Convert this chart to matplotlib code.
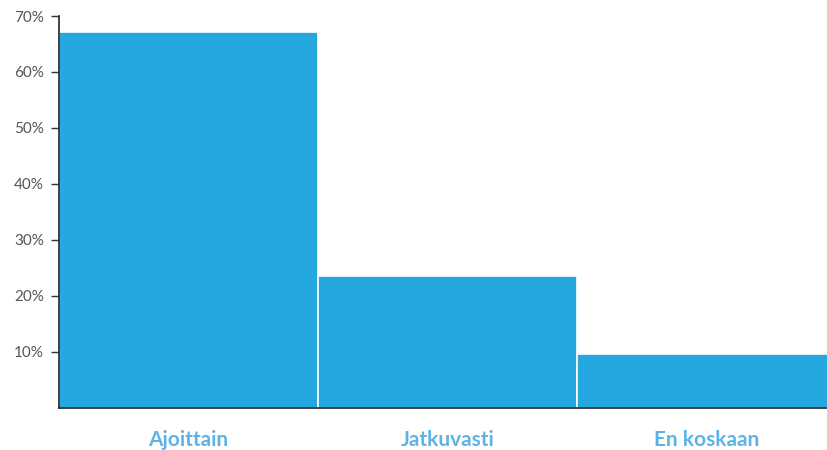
import matplotlib.pyplot as plt
import numpy as np

# Luokat ja osuudet (%)
categories = ["Ajoittain", "Jatkuvasti", "En koskaan"]
shares = [67.2, 23.5, 9.5]
tick_values = [10, 20, 30, 40, 50, 60, 70]
tick_labels = ["10%", "20%", "30%", "40%", "50%", "60%", "70%"]

BAR_COLOR = "#25a8e0"
LABEL_COLOR = "#5db3e6"

fig = plt.figure(figsize=(8.28, 4.5), dpi=100)
ax = fig.add_axes([0.0713, 0.0944, 0.9287, 0.870])

x = np.arange(len(categories))
ax.bar(x, shares, width=1.0, color=BAR_COLOR, edgecolor="white", linewidth=1.2)
# viimeinen palkki jatkuu hieman kuvan reunan yli
ax.set_xlim(-0.5, 2.47)
ax.set_ylim(0, 70)

ax.set_yticks(tick_values)
ax.set_yticklabels(tick_labels, fontfamily="Lato", fontsize=11, color="#555555")
ax.tick_params(axis="y", length=6, width=1, color="#333333", pad=5)
ax.set_xticks(x)
ax.set_xticklabels(categories, fontfamily="Lato", fontsize=15, fontweight="bold",
                   color=LABEL_COLOR)
ax.tick_params(axis="x", length=0, pad=16)

for side in ["top", "right"]:
    ax.spines[side].set_visible(False)
ax.spines["left"].set_color("#222222")
ax.spines["bottom"].set_color("#222222")
ax.spines["left"].set_linewidth(1.2)
ax.spines["bottom"].set_linewidth(1.2)

fig.savefig("out.png", dpi=100)
